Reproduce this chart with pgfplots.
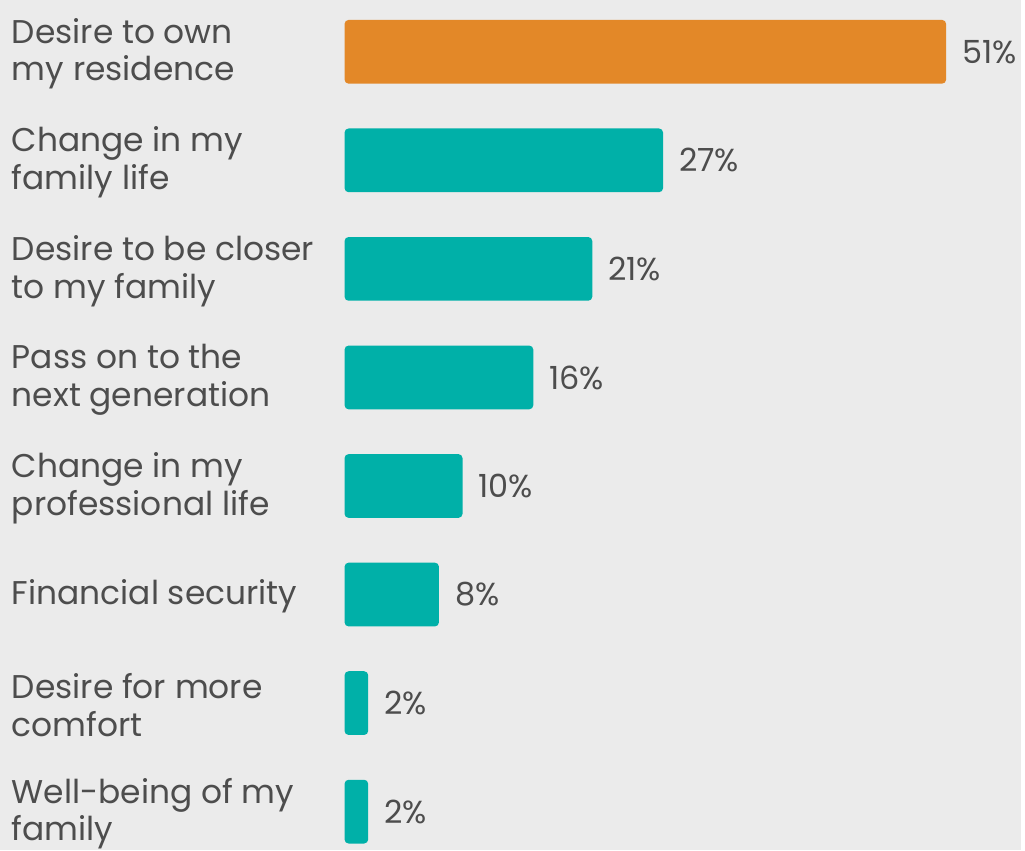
\documentclass[border=0pt]{standalone}
\usepackage{pgfplots}
\pgfplotsset{compat=1.18}
\usepackage{fontspec}
\setmainfont{Poppins}
\definecolor{bgc}{HTML}{EBEBEB}
\definecolor{tealc}{HTML}{00B0A8}
\definecolor{orangec}{HTML}{E38828}
\definecolor{txtc}{HTML}{4D4D4D}
\begin{document}
\begin{tikzpicture}
\fill[bgc] (0,0) rectangle (1025bp,854bp);
\begin{axis}[
  at={(346bp,0bp)}, anchor=south west,
  scale only axis, width=679bp, height=854bp,
  xmin=0, xmax=57.33, ymin=-0.4771, ymax=7.3578,
  y dir=reverse,
  axis line style={draw=none},
  tick style={draw=none},
  xtick=\empty,
  ytick={0,1,2,3,4,5,6,7},
  yticklabels={{Desire to own\\my residence},{Change in my\\family life},{Desire to be closer\\to my family},{Pass on to the\\next generation},{Change in my\\professional life},{Financial security},{Desire for more\\comfort},{Well-being of my\\family}},
  yticklabel style={anchor=west, align=left, inner sep=0pt, xshift=-330bp, yshift=-2bp, font=\fontsize{33bp}{38bp}\selectfont, text=txtc},
  xbar, bar width=0.587, bar shift=0pt,
  point meta=x,
  /pgf/number format/assume math mode=true,
  nodes near coords={\pgfmathprintnumber{\pgfplotspointmeta}\%},
  nodes near coords style={anchor=west, inner sep=0pt, xshift=16bp, font=\fontsize{32bp}{36bp}\selectfont, text=txtc},
  clip=false,
]
\addplot[fill=orangec, draw=none, rounded corners=4bp] coordinates {(51,0)};
\addplot[fill=tealc, draw=none, rounded corners=4bp] coordinates {(27,1) (21,2) (16,3) (10,4) (8,5) (2,6) (2,7)};
\end{axis}
\end{tikzpicture}
\end{document}
